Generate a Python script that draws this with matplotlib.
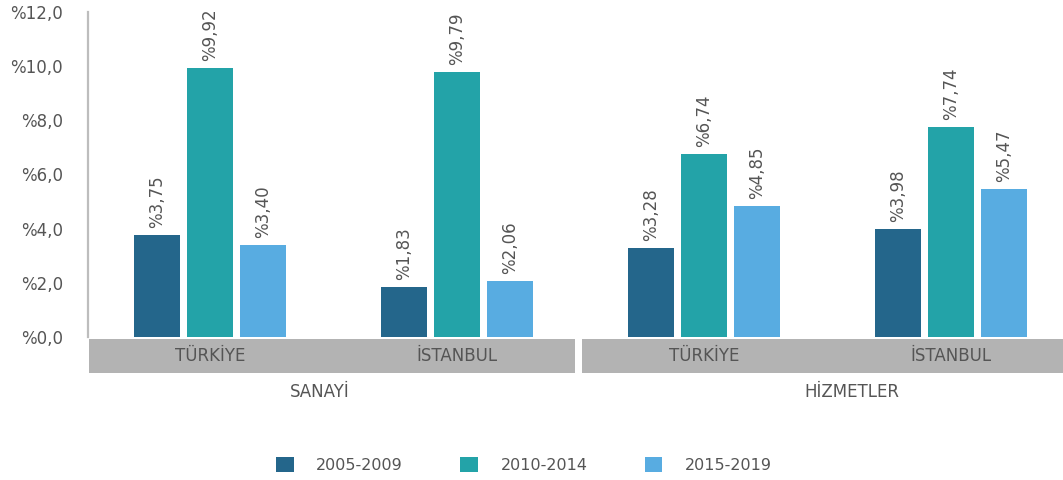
import matplotlib

matplotlib.use("Agg")
import matplotlib.pyplot as plt
import numpy as np
from matplotlib.patches import Rectangle
from matplotlib.transforms import blended_transform_factory

# veriler
REGIONS = ["TÜRKİYE", "İSTANBUL", "TÜRKİYE", "İSTANBUL"]
SECTORS = ["SANAYİ", "HİZMETLER"]
PERIODS = ["2005-2009", "2010-2014", "2015-2019"]
P2005_2009 = [3.75, 1.83, 3.28, 3.98]
P2010_2014 = [9.92, 9.79, 6.74, 7.74]
P2015_2019 = [3.40, 2.06, 4.85, 5.47]
YTICKS = [0, 2, 4, 6, 8, 10, 12]

COLORS = ["#24668B", "#23A3A8", "#58ACE1"]
TXT = "#555555"
BAND = "#B3B3B3"

W, H = 1063, 480
plt.rcParams["font.family"] = ["DejaVu Sans"]
fig = plt.figure(figsize=(W / 100, H / 100), dpi=100)

# pixel layout
x0_px, base_px, top_px = 88, 336.8, 12
ax = fig.add_axes([x0_px / W, 1 - base_px / H, 1 - x0_px / W, (base_px - top_px) / H])

x = np.arange(len(REGIONS))
off, bw = 0.215, 0.186
series = [P2005_2009, P2010_2014, P2015_2019]
for i, (vals, col, lab) in enumerate(zip(series, COLORS, PERIODS)):
    bars = ax.bar(x + (i - 1) * off, vals, width=bw, color=col, label=lab)
    for b, v in zip(bars, vals):
        ax.annotate(f"%{v:.2f}".replace(".", ","), (b.get_x() + b.get_width() / 2, v),
                    xytext=(0, 5), textcoords="offset points", rotation=90,
                    ha="center", va="bottom", fontsize=12, color=TXT)

ax.set_xlim((x0_px - 210) / 247, (W - 210) / 247)
ax.set_ylim(0, 12)
ax.set_yticks(YTICKS)
ax.set_yticklabels([f"%{t:.1f}".replace(".", ",") for t in YTICKS], fontsize=12, color=TXT)
ax.tick_params(axis="y", length=0, pad=18)
ax.set_xticks([])
for s in ["top", "right", "bottom"]:
    ax.spines[s].set_visible(False)
ax.spines["left"].set_color("#BDBDBD")
ax.spines["left"].set_linewidth(1.6)

# kategori bantlari
tr = blended_transform_factory(ax.transData, fig.transFigure)
band_lo, band_hi = 1 - 373 / H, 1 - 339 / H
xl = ax.get_xlim()
for a, b in [(xl[0] + 0.004, 1.478), (1.506, xl[1])]:
    ax.add_patch(Rectangle((a, band_lo), b - a, band_hi - band_lo, transform=tr,
                           color=BAND, clip_on=False, lw=0))
for xi, name in zip(x, REGIONS):
    ax.text(xi, (band_lo + band_hi) / 2, name, transform=tr, ha="center", va="center",
            fontsize=12, color=TXT)
for xs, name in zip([0.445, 2.6], SECTORS):
    ax.text(xs, 1 - 392 / H, name, transform=tr, ha="center", va="center",
            fontsize=12, color=TXT)

fig.legend(loc="center", bbox_to_anchor=(0.493, 1 - 465 / H), ncol=3, frameon=False,
           fontsize=11.5, labelcolor=TXT, handlelength=1.1, handleheight=1.1,
           columnspacing=3.6, handletextpad=1.4)

fig.savefig("out.png", dpi=100)
